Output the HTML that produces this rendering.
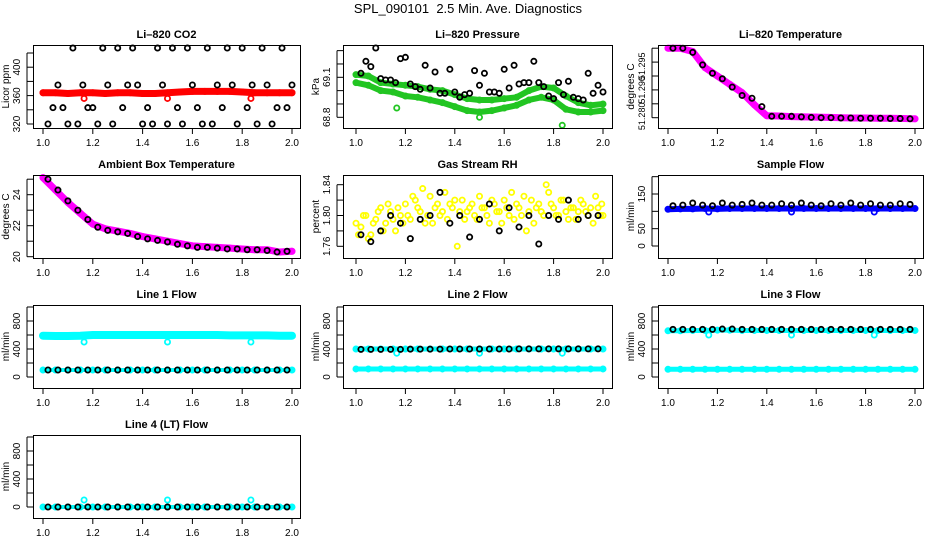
<!DOCTYPE html>
<html><head><meta charset="utf-8"><style>
html,body{margin:0;padding:0;background:#fff;}
svg{display:block;font-family:"Liberation Sans",Arial,sans-serif;}
</style></head><body>
<svg id="chart" width="936" height="540" viewBox="0 0 936 540" xmlns="http://www.w3.org/2000/svg">
<text x="468" y="13" text-anchor="middle" font-size="13" style="white-space:pre">SPL_090101  2.5 Min. Ave. Diagnostics</text>
</svg>
<script>
// ---- data ----
const xTicks = [1.0,1.2,1.4,1.6,1.8,2.0];
const xTickLabels = ["1.0","1.2","1.4","1.6","1.8","2.0"];
const BX = [1.02,1.04,1.06,1.08,1.10,1.12,1.14,1.16,1.18,1.20,1.22,1.24,1.26,1.28,1.30,1.32,1.34,1.36,1.38,1.40,1.42,1.44,1.46,1.48,1.50,1.52,1.54,1.56,1.58,1.60,1.62,1.64,1.66,1.68,1.70,1.72,1.74,1.76,1.78,1.80,1.82,1.84,1.86,1.88,1.90,1.92,1.94,1.96,1.98,2.00];
const BX2 = [1.02,1.06,1.10,1.14,1.18,1.22,1.26,1.30,1.34,1.38,1.42,1.46,1.50,1.54,1.58,1.62,1.66,1.70,1.74,1.78,1.82,1.86,1.90,1.94,1.98];
const DX = [1.00,1.05,1.10,1.15,1.20,1.25,1.30,1.35,1.40,1.45,1.50,1.55,1.60,1.65,1.70,1.75,1.80,1.85,1.90,1.95,2.00];
const RX1 = [1.00,1.02,1.04,1.06,1.08,1.10,1.12,1.14,1.16,1.18,1.20,1.22,1.24,1.26,1.28,1.30,1.32,1.34,1.36,1.38,1.40,1.42,1.44,1.46,1.48,1.50,1.52,1.54,1.56,1.58,1.60,1.62,1.64,1.66,1.68,1.70,1.72,1.74,1.76,1.78,1.80,1.82,1.84,1.86,1.88,1.90,1.92,1.94,1.96,1.98,2.00];
const RX2 = [1.01,1.03,1.05,1.07,1.09,1.11,1.13,1.15,1.17,1.19,1.21,1.23,1.25,1.27,1.29,1.31,1.33,1.35,1.37,1.39,1.41,1.43,1.45,1.47,1.49,1.51,1.53,1.55,1.57,1.59,1.61,1.63,1.65,1.67,1.69,1.71,1.73,1.75,1.77,1.79,1.81,1.83,1.85,1.87,1.89,1.91,1.93,1.95,1.97,1.99,1.995];
const OUTX = [1.165,1.5,1.835];

const co2Black = [320,343,375,343,320,427,320,375,343,343,320,427,375,320,427,343,375,427,375,320,343,320,427,375,320,427,343,320,427,375,343,320,427,320,375,343,427,375,320,427,343,375,320,427,375,320,343,427,343,375];
const co2Red = [364,364,363,364,364,363,364,364,363,363,364,365,366,366,366,366,365,364,364,364,364];
const co2RedOut = [356,356,356];

const presBlack = [69.13,69.22,69.18,69.32,69.09,69.08,69.08,69.06,69.24,69.25,69.05,69.03,69.01,69.19,69.02,69.14,68.98,68.98,69.16,68.99,68.95,68.97,68.98,69.15,69.04,69.13,68.99,68.99,68.98,69.16,69.02,69.19,69.05,69.06,69.06,69.22,69.06,69.03,68.96,68.94,69.06,68.97,69.07,68.95,68.94,68.93,69.13,68.98,69.04,68.99];
const presGreenUp = [69.12,69.11,69.06,69.05,69.04,69.03,69.01,69.0,68.97,68.94,68.93,68.93,68.94,68.95,69.0,69.03,69.02,68.96,68.91,68.89,68.9];
const presGreenLo = [69.06,69.04,69.0,68.99,68.96,68.95,68.93,68.91,68.88,68.85,68.84,68.85,68.87,68.89,68.93,68.95,68.93,68.86,68.84,68.84,68.85];
const presGreenOut = [68.87,68.80,68.74];

const tempMag = [51.305,51.305,51.3038,51.298,51.295,51.292,51.289,51.2846,51.2807,51.2806,51.2804,51.2803,51.2802,51.2801,51.2800,51.2799,51.2799,51.2798,51.2798,51.2797,51.2796];
const tempBlack = [51.305,51.305,51.3035,51.299,51.296,51.294,51.291,51.288,51.287,51.284,51.2805,51.2805,51.2805,51.2803,51.2801,51.2800,51.2800,51.2799,51.2799,51.2798,51.2798,51.2798,51.2797,51.2797,51.2796];

const ambMag = [25.1,24.3,23.5,22.8,22.1,21.8,21.65,21.5,21.3,21.15,21.0,20.85,20.7,20.65,20.6,20.55,20.5,20.45,20.45,20.3,20.35];
const ambBlack = [25.0,24.3,23.6,23.0,22.4,21.9,21.7,21.6,21.5,21.3,21.15,21.05,20.95,20.8,20.7,20.6,20.6,20.55,20.5,20.5,20.45,20.45,20.4,20.3,20.35];

const rhYellow1 = [1.790,1.785,1.800,1.775,1.795,1.810,1.790,1.805,1.780,1.800,1.815,1.795,1.820,1.805,1.790,1.825,1.810,1.800,1.830,1.815,1.820,1.805,1.795,1.810,1.800,1.825,1.810,1.790,1.815,1.805,1.820,1.800,1.795,1.810,1.825,1.805,1.790,1.815,1.800,1.830,1.810,1.800,1.820,1.795,1.810,1.805,1.815,1.800,1.790,1.810,1.800];
const rhYellow2 = [1.775,1.800,1.770,1.790,1.805,1.780,1.815,1.795,1.810,1.790,1.800,1.825,1.810,1.835,1.800,1.790,1.815,1.805,1.795,1.810,1.760,1.820,1.805,1.815,1.795,1.810,1.800,1.820,1.805,1.790,1.810,1.830,1.815,1.800,1.780,1.820,1.810,1.805,1.840,1.815,1.800,1.820,1.805,1.810,1.795,1.820,1.805,1.810,1.825,1.800,1.815];
const rhBlack = [1.775,1.766,1.780,1.800,1.790,1.770,1.795,1.800,1.830,1.790,1.800,1.772,1.795,1.815,1.780,1.810,1.785,1.800,1.763,1.800,1.795,1.820,1.795,1.800,1.800];

const sfBlue = [106,107,107,108,107,108,108,108,108,108,108,108,108,108,108,108,108,108,108,108,108];
const sfBlack = [116,118,124,118,116,124,118,120,124,118,118,122,118,124,118,116,122,118,124,118,122,118,118,122,120];
const sfBlueOut = [98,98,98];

const l1Cyan = [590,585,585,590,600,600,600,600,600,600,600,600,600,600,600,595,595,595,595,590,590];
const l1Low = [100,100,100,100,100,100,100,100,100,100,100,100,100,100,100,100,100,100,100,100,100];
const l1Black = [100,100,100,100,100,100,100,100,100,100,100,100,100,100,100,100,100,100,100,100,100,100,100,100,100];
const l1CyanOut = [500,500,500];

const l2Cyan = [400,400,400,400,400,400,400,400,400,400,400,400,400,400,400,400,400,400,400,400,400];
const l2Low = [115,115,115,115,115,115,115,115,115,115,115,115,115,115,115,115,115,115,115,115,115];
const l2Black = [395,395,395,395,395,398,398,398,398,400,400,400,400,400,400,400,402,402,402,402,402,402,402,402,402];
const l2CyanOut = [340,340,340];

const l3Cyan = [660,660,665,665,670,670,665,665,665,665,665,665,665,665,665,665,665,665,665,665,665];
const l3Low = [110,110,110,110,110,110,110,110,110,110,110,110,110,110,110,110,110,110,110,110,110];
const l3Black = [680,680,680,680,680,685,685,680,680,680,680,680,680,680,680,680,680,680,680,680,680,680,680,680,680];
const l3CyanOut = [600,600,600];

const l4Cyan = [0,0,0,0,0,0,0,0,0,0,0,0,0,0,0,0,0,0,0,0,0];
const l4Black = [0,0,0,0,0,0,0,0,0,0,0,0,0,0,0,0,0,0,0,0,0,0,0,0,0];
const l4CyanOut = [100,100,100];

// ---- drawing ----
const NS = "http://www.w3.org/2000/svg";
const svg = document.getElementById("chart");
function el(tag, attrs, parent){
  const e = document.createElementNS(NS, tag);
  for (const k in attrs) e.setAttribute(k, attrs[k]);
  (parent||svg).appendChild(e);
  return e;
}
function makePanel(name, title, ytitle, box, xp, yref, yticks, ylabels, yfs){
  const g = el("g", {});
  
  
  const [l,t,r,b] = box;
  const sx = v => xp[0] + (v-1)*(xp[1]-xp[0]);
  const sy = v => yref[1] + (v-yref[0])*(yref[3]-yref[1])/(yref[2]-yref[0]);
  const tt = el("text", {x:(l+r)/2, y:t-7, "text-anchor":"middle", "font-size":"11", "font-weight":"bold"}, g);
  tt.textContent = title;
  
  
  xTicks.forEach((v,i)=>{
    el("line",{x1:sx(v),x2:sx(v),y1:b,y2:b+6,stroke:"#000","stroke-width":1},g);
    const tx = el("text",{x:sx(v),y:b+18,"text-anchor":"middle","font-size":"10"},g);
    tx.textContent = xTickLabels[i];
    
    
  });
  el("line",{x1:sx(1),x2:sx(2),y1:b+0.5,y2:b+0.5,stroke:"#000"},g);
  el("line",{x1:l-6,x2:l-6,y1:sy(yticks[0]),y2:sy(yticks[yticks.length-1]),stroke:"#000"},g);
  yticks.forEach(v=>{
    el("line",{x1:l-6,x2:l,y1:sy(v),y2:sy(v),stroke:"#000"},g);
  });
  ylabels.forEach(v=>{
    const yy = sy(v.v);
    const ty = el("text",{x:l-13,y:yy,"text-anchor":"middle","font-size":yfs||"10",transform:`rotate(-90 ${l-13} ${yy})`},g);
    ty.textContent = v.t;
    
    
  });
  const yc = (t+b)/2;
  const yt = el("text",{x:l-24,y:yc,"text-anchor":"middle","font-size":"10",transform:`rotate(-90 ${l-24} ${yc})`},g);
  yt.textContent = ytitle;
  
  
  const plot = el("g",{},g);
  
  
  const frame = el("rect",{x:l+0.5,y:t+0.5,width:r-l,height:b-t,fill:"none",stroke:"#000"},g);
  
  
  return {g:plot, sx, sy};
}
function scatter(p, xs, ys, color, name){
  xs.forEach((x,i)=>{
    if (ys[i]===undefined) return;
    const c = el("circle",{cx:p.sx(x),cy:p.sy(ys[i]),r:2.6,fill:"none",stroke:color,"stroke-width":1.8},p.g);
    
    
  });
}
function band(p, xs, ys, color, w, name){
  const pts = xs.map((x,i)=>p.sx(x)+","+p.sy(ys[i])).join(" ");
  const pl = el("polyline",{points:pts,fill:"none",stroke:color,"stroke-width":w,"stroke-linejoin":"round","stroke-linecap":"round"},p.g);
  
  
  scatter(p, xs, ys, color, name+"-point");
}
const C1=[33,45,300,128], C2=[343,45,612,128], C3=[658,45,923,128];
const row = (c,dy)=>[c[0],c[1]+dy,c[2],c[3]+dy];
const X1=[43,292], X2=[356,603], X3=[668,915];
const flowTicks=[0,200,400,600,800,1000];
const flowLabels=[{v:0,t:"0"},{v:400,t:"400"},{v:800,t:"800"}];

// Row 1
let p = makePanel("co2-panel","Li\u2013820 CO2","Licor ppm",C1,X1,[320,124,400,67.2],[320,340,360,380,400,420],[{v:320,t:"320"},{v:360,t:"360"},{v:400,t:"400"}]);
band(p, DX, co2Red, "#ff0000", 7, "co2-red-series");
scatter(p, OUTX, co2RedOut, "#ff0000", "co2-red-outlier");
scatter(p, BX, co2Black, "#000", "co2-black-point");

p = makePanel("pressure-panel","Li\u2013820 Pressure","kPa",C2,X2,[68.8,117.3,69.1,77.3],[68.8,68.9,69.0,69.1,69.2,69.3],[{v:68.8,t:"68.8"},{v:69.1,t:"69.1"}]);
band(p, DX, presGreenUp, "#22c522", 6, "pressure-green-upper");
band(p, DX, presGreenLo, "#22c522", 6, "pressure-green-lower");
scatter(p, OUTX, presGreenOut, "#22c522", "pressure-green-outlier");
scatter(p, BX, presBlack, "#000", "pressure-black-point");

p = makePanel("temperature-panel","Li\u2013820 Temperature","degrees C",C3,X3,[51.280,117.7,51.295,76.0],[51.280,51.285,51.290,51.295,51.300,51.305],[{v:51.2805,t:"51.280"},{v:51.2900,t:"51.290"},{v:51.2985,t:"51.295"}],"9");
band(p, DX, tempMag, "#ff00ff", 7, "temperature-magenta-series");
scatter(p, BX2, tempBlack, "#000", "temperature-black-point");

// Row 2
p = makePanel("ambient-panel","Ambient Box Temperature","degrees C",row(C1,130),X1,[20,256.7,24,194.7],[20,21,22,23,24,25],[{v:20,t:"20"},{v:22,t:"22"},{v:24,t:"24"}]);
band(p, DX, ambMag, "#ff00ff", 7, "ambient-magenta-series");
scatter(p, BX2, ambBlack, "#000", "ambient-black-point");

p = makePanel("rh-panel","Gas Stream RH","percent",row(C2,130),X2,[1.76,246.3,1.84,184.7],[1.76,1.78,1.80,1.82,1.84],[{v:1.76,t:"1.76"},{v:1.80,t:"1.80"},{v:1.84,t:"1.84"}]);
scatter(p, RX1, rhYellow1, "#ffff00", "rh-yellow-point");
scatter(p, RX2, rhYellow2, "#ffff00", "rh-yellow-point");
scatter(p, BX2, rhBlack, "#000", "rh-black-point");

p = makePanel("sample-flow-panel","Sample Flow","ml/min",row(C3,130),X3,[0,246,150,194],[0,50,100,150,200],[{v:0,t:"0"},{v:50,t:"50"},{v:150,t:"150"}]);
band(p, DX, sfBlue, "#0000ff", 6, "sample-flow-blue-series");
scatter(p, OUTX, sfBlueOut, "#0000ff", "sample-flow-outlier");
scatter(p, BX2, sfBlack, "#000", "sample-flow-black-point");

// Row 3
p = makePanel("line1-flow-panel","Line 1 Flow","ml/min",row(C1,260),X1,[0,377,800,321],flowTicks,flowLabels);
band(p, DX, l1Cyan, "#00ffff", 8, "line1-cyan-series");
band(p, DX, l1Low, "#00ffff", 4, "line1-cyan-low");
scatter(p, OUTX, l1CyanOut, "#00ffff", "line1-outlier");
scatter(p, BX2, l1Black, "#000", "line1-black-point");

p = makePanel("line2-flow-panel","Line 2 Flow","ml/min",row(C2,260),X2,[0,377,800,321],flowTicks,flowLabels);
band(p, DX, l2Low, "#00ffff", 5, "line2-cyan-low");
band(p, DX, l2Cyan, "#00ffff", 5, "line2-cyan-series");
scatter(p, OUTX, l2CyanOut, "#00ffff", "line2-outlier");
scatter(p, BX2, l2Black, "#000", "line2-black-point");

p = makePanel("line3-flow-panel","Line 3 Flow","ml/min",row(C3,260),X3,[0,377,800,321],flowTicks,flowLabels);
band(p, DX, l3Low, "#00ffff", 5, "line3-cyan-low");
band(p, DX, l3Cyan, "#00ffff", 5, "line3-cyan-series");
scatter(p, OUTX, l3CyanOut, "#00ffff", "line3-outlier");
scatter(p, BX2, l3Black, "#000", "line3-black-point");

// Row 4
p = makePanel("line4-flow-panel","Line 4 (LT) Flow","ml/min",row(C1,390),X1,[0,507,800,451],flowTicks,flowLabels);
band(p, DX, l4Cyan, "#00ffff", 4, "line4-cyan-series");
scatter(p, OUTX, l4CyanOut, "#00ffff", "line4-outlier");
scatter(p, BX2, l4Black, "#000", "line4-black-point");
</script>
</body></html>
